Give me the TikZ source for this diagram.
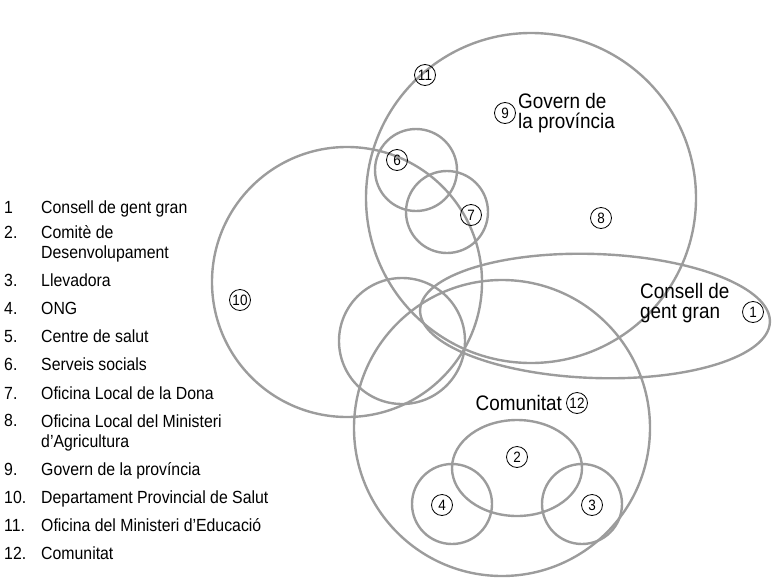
\documentclass[tikz,border=0pt]{standalone}
\usepackage{fontspec}
\setmainfont[FakeStretch=0.9]{Liberation Sans}
\usepackage{xcolor}
\usetikzlibrary{shapes.geometric}
\definecolor{ringc}{HTML}{9C9C9C}
\tikzset{
  ring/.style={circle,draw=ringc,line width=2.4pt,inner sep=0pt},
  oval/.style={ellipse,draw=ringc,line width=2.4pt,inner sep=0pt},
  num/.style={circle,draw=black,line width=0.8pt,inner sep=0pt,minimum size=21pt,font=\fontsize{15}{15}\selectfont},
  lab/.style={font=\fontsize{21}{19.5}\selectfont,align=left,inner sep=0pt},
  leg/.style={font=\fontsize{17.6}{20}\selectfont,align=left,inner sep=0pt,anchor=base west}
}

\begin{document}
\begin{tikzpicture}[x=1pt,y=-1pt]
\useasboundingbox (0,0) rectangle (779,581);
% groups
\node[ring,minimum size=330pt] (gov) at (531,198) {};
\node[ring,minimum size=270pt] (dep) at (347,282) {};
\node[oval,minimum width=350pt,minimum height=124pt,rotate=-2] (con) at (595,316) {};
\node[ring,minimum size=296pt] (com) at (502,428) {};
\node[ring,minimum size=126pt] (cen) at (402,341) {};
\node[ring,minimum size=82pt] (ser) at (416,170) {};
\node[ring,minimum size=82pt] (ofi) at (447,212) {};
\node[oval,minimum width=130pt,minimum height=96pt] (cmt) at (517,468) {};
\node[ring,minimum size=80pt] (ong) at (452,504) {};
\node[ring,minimum size=80pt] (lle) at (582,504) {};
% markers
\node[num] (n11) at (425,75) {11};
\node[num] (n9) at (505,113) {9};
\node[num] (n6) at (397,160) {6};
\node[num] (n7) at (471,215) {7};
\node[num] (n8) at (601,218) {8};
\node[num] (n10) at (240,300) {10};
\node[num] (n1) at (753,312) {1};
\node[num] (n12) at (577,403) {12};
\node[num] (n2) at (517,457) {2};
\node[num] (n4) at (442,505) {4};
\node[num] (n3) at (592,505) {3};
% labels
\node[lab,anchor=west] (tgov) at (518,113) {Govern de\\la província};
\node[lab,anchor=west] (tcon) at (640,303) {Consell de\\gent gran};
\node[lab,anchor=east] (tcom) at (562,403) {Comunitat};
% legend
\foreach \n/\t/\y/\z in {1/{Consell de gent gran}/213/213,
  2./{Comitè de\\Desenvolupament}/238/258,
  3./{Llevadora}/286/286, 4./{ONG}/314/314, 5./{Centre de salut}/342/342,
  6./{Serveis socials}/370/370, 7./{Oficina Local de la Dona}/399/399,
  8./{Oficina Local del Ministeri\\d’Agricultura}/426/447,
  9./{Govern de la província}/475/475, 10./{Departament Provincial de Salut}/503/503,
  11./{Oficina del Ministeri d’Educació}/531/531, 12./{Comunitat}/559/559}{
  \node[leg] (k\y) at (4,\y) {\n};
  \node[leg] (t\y) at (41,\z) {\t};
}
\end{tikzpicture}
\end{document}
